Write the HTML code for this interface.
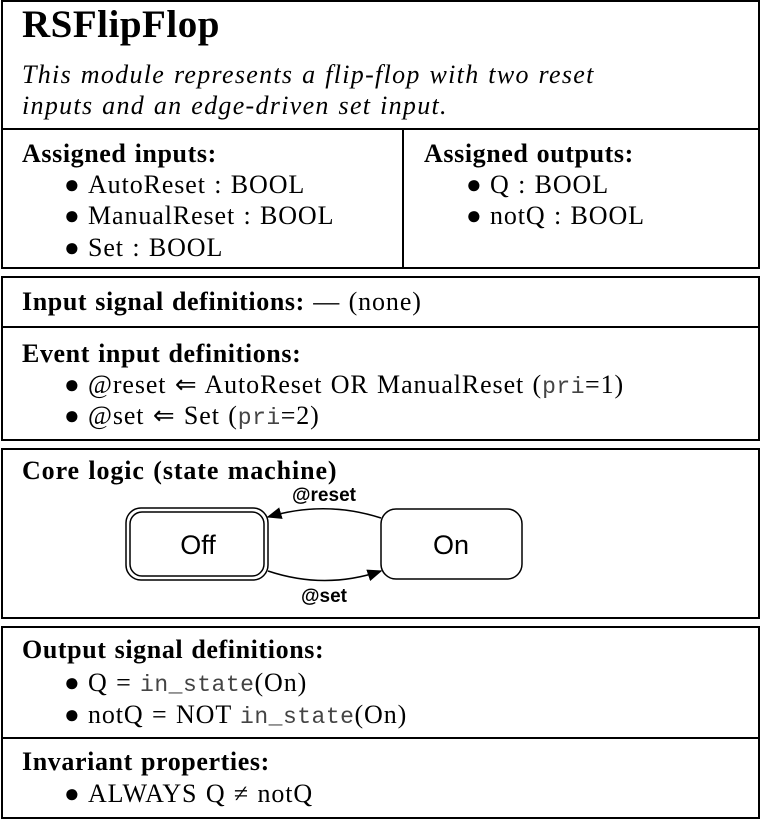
<!DOCTYPE html>
<html><head><meta charset="utf-8"><style>
body{margin:0;width:761px;height:820px;background:#fff;position:relative;overflow:hidden;font-family:"Liberation Serif",serif;color:#000}
.box{position:absolute;left:1px;width:755px;border:2px solid #000;box-sizing:content-box}
.hl{position:absolute;left:1px;width:759px;height:2px;background:#000}
.t{position:absolute;font-size:26px;line-height:26px;white-space:nowrap;letter-spacing:0.9px;word-spacing:1px}
.b{font-weight:bold}
.m{font-family:"Liberation Mono",monospace;font-size:23px;color:#444;letter-spacing:0.5px}
.bl{position:absolute;left:-24px}
</style></head><body>
<div class="box" style="top:0;height:265px"></div>
<div class="hl" style="top:128px"></div>
<div style="position:absolute;left:402px;top:128px;width:2px;height:140px;background:#000"></div>
<div class="box" style="top:276px;height:161px"></div>
<div class="hl" style="top:326px"></div>
<div class="box" style="top:448px;height:167px"></div>
<div class="box" style="top:626px;height:189px"></div>
<div class="hl" style="top:737px"></div>

<div class="t b" style="left:22px;top:5px;font-size:39px;line-height:39px;letter-spacing:0.5px">RSFlipFlop</div>
<div class="t" style="left:22px;top:59px;font-style:italic;line-height:31px;letter-spacing:1.3px;word-spacing:1px">This module represents a flip-flop with two reset<br>inputs and an edge-driven set input.</div>

<div class="t b" style="left:22px;top:141px;letter-spacing:0.6px">Assigned inputs:</div>
<div class="t" style="left:88px;top:172px"><span class="bl">●</span>AutoReset : BOOL</div>
<div class="t" style="left:88px;top:203px"><span class="bl">●</span>ManualReset : BOOL</div>
<div class="t" style="left:88px;top:235px"><span class="bl">●</span>Set : BOOL</div>

<div class="t b" style="left:424px;top:141px;letter-spacing:0.6px">Assigned outputs:</div>
<div class="t" style="left:490px;top:172px"><span class="bl">●</span>Q : BOOL</div>
<div class="t" style="left:490px;top:203px"><span class="bl">●</span>notQ : BOOL</div>

<div class="t" style="left:22px;top:289px"><b style="letter-spacing:0.6px">Input signal definitions:</b> — (none)</div>
<div class="t b" style="left:22px;top:341px;letter-spacing:0.6px">Event input definitions:</div>
<div class="t" style="left:88px;top:372px"><span class="bl">●</span>@reset ⇐ AutoReset OR ManualReset (<span class="m">pri</span>=1)</div>
<div class="t" style="left:88px;top:403px"><span class="bl">●</span>@set ⇐ Set (<span class="m">pri</span>=2)</div>

<div class="t b" style="left:22px;top:458px;letter-spacing:0.9px">Core logic (state machine)</div>
<svg style="position:absolute;left:0;top:0" width="761" height="820">
<defs><marker id="ar" markerWidth="10" markerHeight="8" refX="9" refY="4" orient="auto"><path d="M0,0 L10,4 L0,8 z"/></marker></defs>
<g>
<rect x="126" y="508" width="142" height="72" rx="15" fill="#fff" stroke="#000" stroke-width="1.5"/>
<rect x="130" y="512" width="134" height="64" rx="12" fill="none" stroke="#000" stroke-width="1.5"/>
<text x="198" y="554" text-anchor="middle" font-family="Liberation Sans,sans-serif" font-size="27">Off</text></g>
<g>
<rect x="381" y="509" width="141" height="70" rx="15" fill="#fff" stroke="#000" stroke-width="1.5"/>
<text x="451" y="554" text-anchor="middle" font-family="Liberation Sans,sans-serif" font-size="27">On</text></g>
<path d="M381,518 Q325,500 268,517" fill="none" stroke="#000" stroke-width="1.5" marker-end="url(#ar)"/>
<path d="M268,571 Q325,590 381,571" fill="none" stroke="#000" stroke-width="1.5" marker-end="url(#ar)"/>
<text x="324" y="501" text-anchor="middle" font-family="Liberation Sans,sans-serif" font-weight="bold" font-size="19">@reset</text>
<text x="324" y="602" text-anchor="middle" font-family="Liberation Sans,sans-serif" font-weight="bold" font-size="19">@set</text>
</svg>

<div class="t b" style="left:22px;top:637px;letter-spacing:0.6px">Output signal definitions:</div>
<div class="t" style="left:88px;top:670px"><span class="bl">●</span>Q = <span class="m">in_state</span>(On)</div>
<div class="t" style="left:88px;top:702px"><span class="bl">●</span>notQ = NOT <span class="m">in_state</span>(On)</div>
<div class="t b" style="left:22px;top:749px;letter-spacing:0.6px">Invariant properties:</div>
<div class="t" style="left:88px;top:781px"><span class="bl">●</span>ALWAYS Q ≠ notQ</div>
</body></html>
